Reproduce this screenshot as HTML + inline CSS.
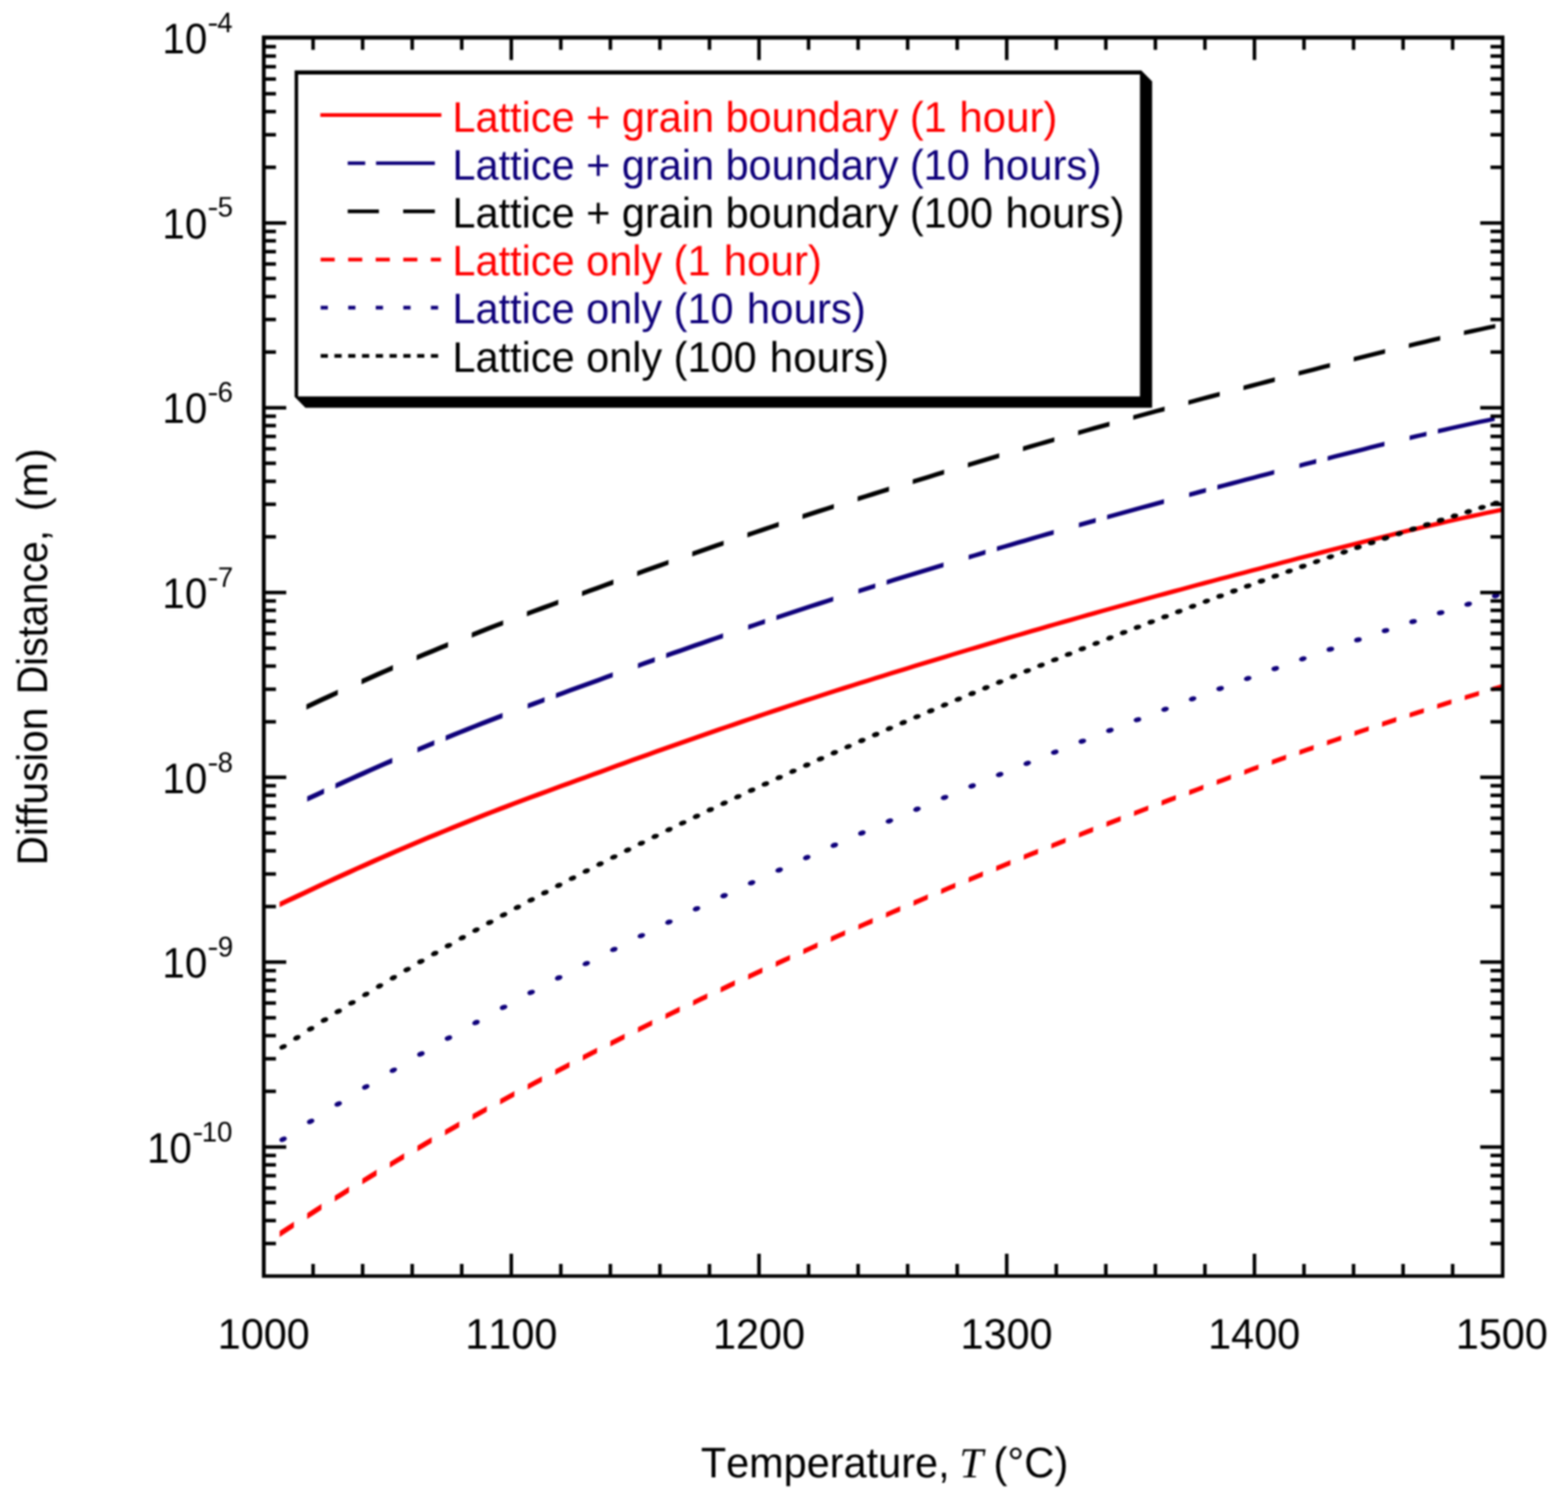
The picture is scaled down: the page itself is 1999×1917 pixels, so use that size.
<!DOCTYPE html>
<html lang="en">
<head>
<meta charset="utf-8">
<title>Diffusion distance vs temperature</title>
<style>
html,body{margin:0;padding:0;background:#fff;}
body{width:1999px;height:1917px;overflow:hidden;}
svg{display:block;filter:blur(0.8px);}
text{white-space:pre;font-kerning:none;text-rendering:geometricPrecision;}
</style>
</head>
<body>
<svg width="1999" height="1917" viewBox="0 0 1999 1917">
<rect width="1999" height="1917" fill="#fff"/>
<g><path d="M356.5 1149.56 L366.49 1144.83 L376.48 1140.11 L386.47 1135.39 L396.46 1130.69 L406.46 1126.03 L416.45 1121.39 L426.44 1116.79 L436.43 1112.23 L446.42 1107.7 L456.41 1103.21 L466.4 1098.75 L476.39 1094.32 L486.38 1089.92 L496.37 1085.55 L506.37 1081.23 L516.36 1076.95 L526.35 1072.71 L536.34 1068.51 L546.33 1064.35 L556.32 1060.23 L566.31 1056.13 L576.3 1052.06 L586.29 1048.01 L596.28 1043.99 L606.28 1040.02 L616.27 1036.09 L626.26 1032.2 L636.25 1028.35 L646.24 1024.55 L656.23 1020.78 L666.22 1017.03 L676.21 1013.3 L686.2 1009.59 L696.19 1005.91 L706.19 1002.24 L716.18 998.59 L726.17 994.95 L736.16 991.31 L746.15 987.67 L756.14 984.02 L766.13 980.38 L776.12 976.73 L786.11 973.09 L796.11 969.46 L806.1 965.85 L816.09 962.25 L826.08 958.67 L836.07 955.11 L846.06 951.56 L856.05 948.03 L866.04 944.51 L876.03 941 L886.02 937.51 L896.02 934.04 L906.01 930.57 L916 927.12 L925.99 923.68 L935.98 920.26 L945.97 916.84 L955.96 913.45 L965.95 910.06 L975.94 906.69 L985.93 903.33 L995.93 899.99 L1005.92 896.67 L1015.91 893.38 L1025.9 890.12 L1035.89 886.88 L1045.88 883.66 L1055.87 880.46 L1065.86 877.28 L1075.85 874.11 L1085.84 870.95 L1095.84 867.8 L1105.83 864.66 L1115.82 861.54 L1125.81 858.42 L1135.8 855.32 L1145.79 852.22 L1155.78 849.14 L1165.77 846.07 L1175.76 843.01 L1185.76 839.96 L1195.75 836.92 L1205.74 833.9 L1215.73 830.89 L1225.72 827.88 L1235.71 824.89 L1245.7 821.91 L1255.69 818.94 L1265.68 815.98 L1275.67 813.03 L1285.67 810.1 L1295.66 807.17 L1305.65 804.25 L1315.64 801.34 L1325.63 798.45 L1335.62 795.56 L1345.61 792.69 L1355.6 789.83 L1365.59 786.98 L1375.58 784.14 L1385.58 781.32 L1395.57 778.52 L1405.56 775.72 L1415.55 772.95 L1425.54 770.18 L1435.53 767.42 L1445.52 764.68 L1455.51 761.94 L1465.5 759.22 L1475.49 756.51 L1485.49 753.8 L1495.48 751.1 L1505.47 748.41 L1515.46 745.72 L1525.45 743.04 L1535.44 740.36 L1545.43 737.7 L1555.42 735.05 L1565.41 732.41 L1575.41 729.78 L1585.4 727.15 L1595.39 724.52 L1605.38 721.9 L1615.37 719.27 L1625.36 716.65 L1635.35 714.02 L1645.34 711.42 L1655.33 708.82 L1665.32 706.25 L1675.32 703.68 L1685.31 701.12 L1695.3 698.56 L1705.29 696.01 L1715.28 693.46 L1725.27 690.92 L1735.26 688.39 L1745.25 685.88 L1755.24 683.38 L1765.23 680.9 L1775.23 678.45 L1785.22 676.02 L1795.21 673.62 L1805.2 671.23 L1815.19 668.88 L1825.18 666.53 L1835.17 664.22 L1845.16 661.94 L1855.15 659.69 L1865.14 657.47 L1875.14 655.29 L1885.13 653.14 L1895.12 651.03 L1905.11 648.94 L1915.1 646.87 L1915.1 652.42 L1905.11 654.5 L1895.12 656.6 L1885.13 658.73 L1875.14 660.89 L1865.14 663.09 L1855.15 665.32 L1845.16 667.58 L1835.17 669.88 L1825.18 672.21 L1815.19 674.56 L1805.2 676.93 L1795.21 679.32 L1785.22 681.74 L1775.23 684.18 L1765.23 686.64 L1755.24 689.13 L1745.25 691.63 L1735.26 694.16 L1725.27 696.69 L1715.28 699.24 L1705.29 701.78 L1695.3 704.34 L1685.31 706.9 L1675.32 709.46 L1665.32 712.03 L1655.33 714.62 L1645.34 717.22 L1635.35 719.83 L1625.36 722.45 L1615.37 725.08 L1605.38 727.71 L1595.39 730.33 L1585.4 732.96 L1575.41 735.59 L1565.41 738.22 L1555.42 740.87 L1545.43 743.52 L1535.44 746.19 L1525.45 748.87 L1515.46 751.56 L1505.47 754.25 L1495.48 756.95 L1485.49 759.65 L1475.49 762.36 L1465.5 765.07 L1455.51 767.8 L1445.52 770.54 L1435.53 773.29 L1425.54 776.05 L1415.55 778.82 L1405.56 781.61 L1395.57 784.41 L1385.58 787.22 L1375.58 790.05 L1365.59 792.89 L1355.6 795.74 L1345.61 798.61 L1335.62 801.49 L1325.63 804.38 L1315.64 807.28 L1305.65 810.19 L1295.66 813.11 L1285.67 816.05 L1275.67 818.99 L1265.68 821.94 L1255.69 824.91 L1245.7 827.88 L1235.71 830.87 L1225.72 833.86 L1215.73 836.87 L1205.74 839.89 L1195.75 842.92 L1185.76 845.96 L1175.76 849.02 L1165.77 852.08 L1155.78 855.16 L1145.79 858.25 L1135.8 861.34 L1125.81 864.45 L1115.82 867.57 L1105.83 870.71 L1095.84 873.85 L1085.84 877 L1075.85 880.17 L1065.86 883.35 L1055.87 886.53 L1045.88 889.74 L1035.89 892.97 L1025.9 896.22 L1015.91 899.5 L1005.92 902.8 L995.93 906.13 L985.93 909.48 L975.94 912.84 L965.95 916.22 L955.96 919.61 L945.97 923.01 L935.98 926.43 L925.99 929.86 L916 933.31 L906.01 936.76 L896.02 940.23 L886.02 943.72 L876.03 947.22 L866.04 950.73 L856.05 954.25 L846.06 957.79 L836.07 961.35 L826.08 964.92 L816.09 968.5 L806.1 972.11 L796.11 975.73 L786.11 979.36 L776.12 983.01 L766.13 986.66 L756.14 990.3 L746.15 993.94 L736.16 997.59 L726.17 1001.23 L716.18 1004.87 L706.19 1008.52 L696.19 1012.2 L686.2 1015.9 L676.21 1019.62 L666.22 1023.35 L656.23 1027.11 L646.24 1030.9 L636.25 1034.72 L626.26 1038.59 L616.27 1042.49 L606.28 1046.45 L596.28 1050.44 L586.29 1054.47 L576.3 1058.53 L566.31 1062.62 L556.32 1066.72 L546.33 1070.86 L536.34 1075.04 L526.35 1079.25 L516.36 1083.51 L506.37 1087.81 L496.37 1092.16 L486.38 1096.54 L476.39 1100.96 L466.4 1105.4 L456.41 1109.87 L446.42 1114.38 L436.43 1118.93 L426.44 1123.51 L416.45 1128.12 L406.46 1132.77 L396.46 1137.45 L386.47 1142.16 L376.48 1146.88 L366.49 1151.61 L356.5 1156.34Z" fill="#ff0000"/>
<path d="M391.64 1015.1 L398.8 1011.74 L405.97 1008.39 L413.14 1005.06 L413.14 1011.8 L405.97 1015.14 L398.8 1018.49 L391.64 1021.87Z M427.64 998.39 L436.7 994.25 L445.76 990.14 L454.82 986.06 L463.89 982.01 L472.95 977.98 L482.01 973.98 L491.07 970.01 L500.14 966.06 L500.14 972.66 L491.07 976.62 L482.01 980.61 L472.95 984.62 L463.89 988.66 L454.82 992.73 L445.76 996.82 L436.7 1000.95 L427.64 1005.1Z M532.18 952.39 L539.35 949.39 L546.51 946.42 L553.68 943.46 L553.68 949.96 L546.51 952.93 L539.35 955.92 L532.18 958.93Z M568.18 937.51 L577.24 933.82 L586.3 930.15 L595.37 926.5 L604.43 922.89 L613.49 919.32 L622.55 915.78 L631.62 912.27 L640.68 908.8 L640.68 915.16 L631.62 918.65 L622.55 922.17 L613.49 925.73 L604.43 929.32 L595.37 932.95 L586.3 936.61 L577.24 940.29 L568.18 943.99Z M672.72 896.74 L679.89 894.08 L687.06 891.42 L694.22 888.77 L694.22 895.07 L687.06 897.72 L679.89 900.39 L672.72 903.06Z M708.72 883.45 L717.79 880.14 L726.85 876.84 L735.91 873.54 L744.97 870.24 L754.04 866.93 L763.1 863.63 L772.16 860.32 L781.22 857.01 L781.22 863.29 L772.16 866.6 L763.1 869.91 L754.04 873.21 L744.97 876.51 L735.91 879.82 L726.85 883.12 L717.79 886.42 L708.72 889.74Z M813.27 845.4 L820.43 842.83 L827.6 840.27 L834.77 837.71 L834.77 843.95 L827.6 846.51 L820.43 849.08 L813.27 851.66Z M849.27 832.57 L858.33 829.36 L867.39 826.18 L876.46 823 L885.52 819.83 L894.58 816.68 L903.64 813.53 L912.71 810.4 L921.77 807.27 L921.77 813.46 L912.71 816.59 L903.64 819.73 L894.58 822.88 L885.52 826.04 L876.46 829.21 L867.39 832.39 L858.33 835.59 L849.27 838.79Z M953.81 796.32 L960.98 793.89 L968.15 791.46 L975.31 789.04 L975.31 795.2 L968.15 797.62 L960.98 800.05 L953.81 802.48Z M989.81 784.17 L998.87 781.15 L1007.94 778.15 L1017 775.17 L1026.06 772.21 L1035.12 769.27 L1044.19 766.35 L1053.25 763.44 L1062.31 760.55 L1062.31 766.62 L1053.25 769.51 L1044.19 772.43 L1035.12 775.36 L1026.06 778.31 L1017 781.28 L1007.94 784.27 L998.87 787.28 L989.81 790.32Z M1094.36 750.41 L1101.52 748.15 L1108.69 745.91 L1115.86 743.67 L1115.86 749.7 L1108.69 751.95 L1101.52 754.2 L1094.36 756.46Z M1130.36 739.15 L1139.42 736.34 L1148.48 733.53 L1157.54 730.74 L1166.61 727.96 L1175.67 725.18 L1184.73 722.41 L1193.79 719.66 L1202.86 716.91 L1202.86 722.9 L1193.79 725.66 L1184.73 728.42 L1175.67 731.19 L1166.61 733.97 L1157.54 736.76 L1148.48 739.56 L1139.42 742.36 L1130.36 745.18Z M1234.9 707.28 L1242.07 705.14 L1249.23 703 L1256.4 700.87 L1256.4 706.84 L1249.23 708.97 L1242.07 711.11 L1234.9 713.25Z M1270.9 696.58 L1279.96 693.91 L1289.03 691.25 L1298.09 688.6 L1307.15 685.95 L1316.21 683.32 L1325.28 680.69 L1334.34 678.08 L1343.4 675.47 L1343.4 681.39 L1334.34 684 L1325.28 686.62 L1316.21 689.26 L1307.15 691.9 L1298.09 694.54 L1289.03 697.2 L1279.96 699.87 L1270.9 702.54Z M1375.44 666.32 L1382.61 664.3 L1389.78 662.28 L1396.94 660.27 L1396.94 666.16 L1389.78 668.18 L1382.61 670.2 L1375.44 672.23Z M1411.44 656.23 L1420.51 653.71 L1429.57 651.21 L1438.63 648.71 L1447.69 646.22 L1456.76 643.75 L1465.82 641.28 L1474.88 638.82 L1483.94 636.36 L1483.94 642.21 L1474.88 644.67 L1465.82 647.13 L1456.76 649.6 L1447.69 652.08 L1438.63 654.58 L1429.57 657.08 L1420.51 659.59 L1411.44 662.11Z M1515.99 627.72 L1523.15 625.79 L1530.32 623.87 L1537.49 621.95 L1537.49 627.78 L1530.32 629.7 L1523.15 631.63 L1515.99 633.55Z M1551.99 618.1 L1561.05 615.7 L1570.11 613.32 L1579.18 610.93 L1588.24 608.55 L1597.3 606.16 L1606.36 603.78 L1615.43 601.4 L1624.49 599.02 L1624.49 604.83 L1615.43 607.21 L1606.36 609.59 L1597.3 611.97 L1588.24 614.36 L1579.18 616.74 L1570.11 619.13 L1561.05 621.52 L1551.99 623.92Z M1656.53 590.66 L1663.7 588.81 L1670.87 586.96 L1678.03 585.12 L1678.03 590.91 L1670.87 592.75 L1663.7 594.59 L1656.53 596.45Z M1692.53 581.41 L1701.59 579.09 L1710.66 576.78 L1719.72 574.48 L1728.78 572.17 L1737.84 569.88 L1746.91 567.6 L1755.97 565.34 L1765.03 563.1 L1765.03 568.83 L1755.97 571.09 L1746.91 573.36 L1737.84 575.64 L1728.78 577.94 L1719.72 580.25 L1710.66 582.56 L1701.59 584.87 L1692.53 587.19Z M1797.08 555.31 L1804.24 553.6 L1811.41 551.91 L1818.58 550.22 L1818.58 555.9 L1811.41 557.59 L1804.24 559.3 L1797.08 561.01Z M1833.08 546.84 L1842.14 544.76 L1851.2 542.71 L1860.26 540.69 L1869.33 538.69 L1878.39 536.73 L1887.45 534.79 L1896.51 532.88 L1905.58 530.98 L1905.58 536.54 L1896.51 538.45 L1887.45 540.37 L1878.39 542.32 L1869.33 544.3 L1860.26 546.31 L1851.2 548.35 L1842.14 550.42 L1833.08 552.51Z" fill="#0e007a"/>
<path d="M390.64 897.71 L400.64 893.02 L410.64 888.37 L420.64 883.74 L430.64 879.16 L430.64 885.86 L420.64 890.46 L410.64 895.1 L400.64 899.78 L390.64 904.48Z M460.91 865.48 L470.91 861.03 L480.91 856.61 L490.91 852.22 L500.91 847.87 L500.91 854.46 L490.91 858.84 L480.91 863.24 L470.91 867.67 L460.91 872.14Z M531.18 834.95 L541.18 830.77 L551.18 826.63 L561.18 822.52 L571.18 818.43 L571.18 824.91 L561.18 829.01 L551.18 833.13 L541.18 837.29 L531.18 841.49Z M601.45 806.22 L611.45 802.26 L621.45 798.35 L631.45 794.48 L641.45 790.65 L641.45 797.01 L631.45 800.85 L621.45 804.74 L611.45 808.68 L601.45 812.65Z M671.72 779.26 L681.72 775.54 L691.72 771.84 L701.72 768.16 L711.72 764.5 L711.72 770.78 L701.72 774.45 L691.72 778.14 L681.72 781.85 L671.72 785.58Z M742 753.47 L752 749.82 L762 746.17 L772 742.52 L782 738.87 L782 745.15 L772 748.8 L762 752.45 L752 756.1 L742 759.74Z M812.27 727.91 L822.27 724.32 L832.27 720.74 L842.27 717.19 L852.27 713.65 L852.27 719.87 L842.27 723.42 L832.27 726.99 L822.27 730.57 L812.27 734.16Z M882.54 703.01 L892.54 699.53 L902.54 696.05 L912.54 692.59 L922.54 689.15 L922.54 695.33 L912.54 698.78 L902.54 702.25 L892.54 705.73 L882.54 709.22Z M952.81 678.8 L962.81 675.41 L972.81 672.03 L982.81 668.66 L992.81 665.31 L992.81 671.45 L982.81 674.81 L972.81 678.18 L962.81 681.57 L952.81 684.96Z M1023.08 655.32 L1033.08 652.07 L1043.08 648.84 L1053.08 645.64 L1063.08 642.45 L1063.08 648.51 L1053.08 651.71 L1043.08 654.92 L1033.08 658.16 L1023.08 661.42Z M1093.36 632.86 L1103.36 629.72 L1113.36 626.59 L1123.36 623.47 L1133.36 620.36 L1133.36 626.39 L1123.36 629.5 L1113.36 632.63 L1103.36 635.76 L1093.36 638.91Z M1163.63 611.01 L1173.63 607.95 L1183.63 604.89 L1193.63 601.85 L1203.63 598.82 L1203.63 604.81 L1193.63 607.85 L1183.63 610.9 L1173.63 613.95 L1163.63 617.03Z M1233.9 589.72 L1243.9 586.73 L1253.9 583.76 L1263.9 580.79 L1273.9 577.84 L1273.9 583.8 L1263.9 586.76 L1253.9 589.72 L1243.9 592.7 L1233.9 595.69Z M1304.17 568.96 L1314.17 566.05 L1324.17 563.15 L1334.17 560.26 L1344.17 557.39 L1344.17 563.31 L1334.17 566.19 L1324.17 569.09 L1314.17 571.99 L1304.17 574.91Z M1374.44 548.75 L1384.44 545.92 L1394.44 543.11 L1404.44 540.32 L1414.44 537.54 L1414.44 543.41 L1404.44 546.2 L1394.44 549.01 L1384.44 551.82 L1374.44 554.65Z M1444.72 529.18 L1454.72 526.44 L1464.72 523.72 L1474.72 521 L1484.72 518.29 L1484.72 524.14 L1474.72 526.85 L1464.72 529.57 L1454.72 532.3 L1444.72 535.04Z M1514.99 510.13 L1524.99 507.44 L1534.99 504.76 L1544.99 502.1 L1554.99 499.45 L1554.99 505.26 L1544.99 507.92 L1534.99 510.59 L1524.99 513.28 L1514.99 515.97Z M1585.26 491.47 L1595.26 488.84 L1605.26 486.21 L1615.26 483.58 L1625.26 480.96 L1625.26 486.76 L1615.26 489.39 L1605.26 492.02 L1595.26 494.65 L1585.26 497.28Z M1655.53 473.06 L1665.53 470.48 L1675.53 467.91 L1685.53 465.34 L1695.53 462.79 L1695.53 468.56 L1685.53 471.12 L1675.53 473.69 L1665.53 476.26 L1655.53 478.85Z M1725.8 455.07 L1735.8 452.54 L1745.8 450.02 L1755.8 447.52 L1765.8 445.05 L1765.8 450.78 L1755.8 453.27 L1745.8 455.78 L1735.8 458.3 L1725.8 460.84Z M1796.08 437.69 L1806.08 435.31 L1816.08 432.95 L1826.08 430.61 L1836.08 428.29 L1836.08 433.95 L1826.08 436.28 L1816.08 438.63 L1806.08 441 L1796.08 443.4Z M1866.35 421.49 L1876.35 419.31 L1886.35 417.17 L1896.35 415.05 L1906.35 412.97 L1906.35 418.52 L1896.35 420.62 L1886.35 422.75 L1876.35 424.91 L1866.35 427.1Z" fill="#000000"/>
<path d="M356.5 1569.06 L365.6 1563.08 L374.7 1557.14 L374.7 1564.74 L365.6 1570.7 L356.5 1576.7Z M391.64 1546.19 L400.74 1540.36 L409.84 1534.57 L409.84 1542.09 L400.74 1547.9 L391.64 1553.75Z M426.77 1523.89 L435.87 1518.2 L444.97 1512.55 L444.97 1520 L435.87 1525.67 L426.77 1531.37Z M461.91 1502.13 L471.01 1496.58 L480.11 1491.07 L480.11 1498.45 L471.01 1503.98 L461.91 1509.55Z M497.04 1480.9 L506.14 1475.48 L515.24 1470.09 L515.24 1477.41 L506.14 1482.81 L497.04 1488.25Z M532.18 1460.15 L541.28 1454.86 L550.38 1449.59 L550.38 1456.85 L541.28 1462.13 L532.18 1467.44Z M567.32 1439.88 L576.42 1434.7 L585.52 1429.55 L585.52 1436.75 L576.42 1441.91 L567.32 1447.11Z M602.45 1420.05 L611.55 1414.98 L620.65 1409.94 L620.65 1417.08 L611.55 1422.14 L602.45 1427.22Z M637.59 1400.64 L646.69 1395.68 L655.79 1390.74 L655.79 1397.83 L646.69 1402.78 L637.59 1407.75Z M672.72 1381.63 L681.82 1376.77 L690.92 1371.93 L690.92 1378.97 L681.82 1383.82 L672.72 1388.69Z M707.86 1363 L716.96 1358.23 L726.06 1353.49 L726.06 1360.48 L716.96 1365.24 L707.86 1370.01Z M743 1344.73 L752.1 1340.05 L761.2 1335.4 L761.2 1342.35 L752.1 1347.01 L743 1351.7Z M778.13 1326.8 L787.23 1322.21 L796.33 1317.64 L796.33 1324.55 L787.23 1329.13 L778.13 1333.73Z M813.27 1309.19 L822.37 1304.68 L831.47 1300.2 L831.47 1307.06 L822.37 1311.56 L813.27 1316.08Z M848.4 1291.89 L857.5 1287.46 L866.6 1283.05 L866.6 1289.88 L857.5 1294.3 L848.4 1298.74Z M883.54 1274.89 L892.64 1270.53 L901.74 1266.19 L901.74 1272.98 L892.64 1277.33 L883.54 1281.7Z M918.68 1258.16 L927.78 1253.87 L936.88 1249.6 L936.88 1256.36 L927.78 1260.64 L918.68 1264.93Z M953.81 1241.69 L962.91 1237.47 L972.01 1233.26 L972.01 1239.99 L962.91 1244.2 L953.81 1248.43Z M988.95 1225.48 L998.05 1221.32 L1007.15 1217.18 L1007.15 1223.87 L998.05 1228.02 L988.95 1232.19Z M1024.08 1209.5 L1033.18 1205.41 L1042.28 1201.32 L1042.28 1207.98 L1033.18 1212.08 L1024.08 1216.18Z M1059.22 1193.76 L1068.32 1189.72 L1077.42 1185.69 L1077.42 1192.32 L1068.32 1196.36 L1059.22 1200.41Z M1094.36 1178.23 L1103.46 1174.25 L1112.56 1170.28 L1112.56 1176.88 L1103.46 1180.86 L1094.36 1184.85Z M1129.49 1162.92 L1138.59 1158.99 L1147.69 1155.07 L1147.69 1161.65 L1138.59 1165.57 L1129.49 1169.51Z M1164.63 1147.81 L1173.73 1143.93 L1182.83 1140.06 L1182.83 1146.62 L1173.73 1150.49 L1164.63 1154.38Z M1199.76 1132.9 L1208.86 1129.07 L1217.96 1125.25 L1217.96 1131.78 L1208.86 1135.6 L1199.76 1139.44Z M1234.9 1118.18 L1244 1114.4 L1253.1 1110.63 L1253.1 1117.13 L1244 1120.91 L1234.9 1124.7Z M1270.04 1103.65 L1279.14 1099.92 L1288.24 1096.2 L1288.24 1102.67 L1279.14 1106.4 L1270.04 1110.14Z M1305.17 1089.3 L1314.27 1085.62 L1323.37 1081.94 L1323.37 1088.4 L1314.27 1092.08 L1305.17 1095.77Z M1340.31 1075.14 L1349.41 1071.5 L1358.51 1067.88 L1358.51 1074.31 L1349.41 1077.94 L1340.31 1081.58Z M1375.44 1061.16 L1384.54 1057.57 L1393.64 1053.99 L1393.64 1060.4 L1384.54 1063.98 L1375.44 1067.58Z M1410.58 1047.36 L1419.68 1043.82 L1428.78 1040.28 L1428.78 1046.67 L1419.68 1050.21 L1410.58 1053.76Z M1445.72 1033.74 L1454.82 1030.24 L1463.92 1026.76 L1463.92 1033.12 L1454.82 1036.61 L1445.72 1040.11Z M1480.85 1020.31 L1489.95 1016.86 L1499.05 1013.42 L1499.05 1019.76 L1489.95 1023.2 L1480.85 1026.66Z M1515.99 1007.06 L1525.09 1003.66 L1534.19 1000.27 L1534.19 1006.59 L1525.09 1009.98 L1515.99 1013.39Z M1551.12 994.01 L1560.22 990.66 L1569.32 987.32 L1569.32 993.6 L1560.22 996.95 L1551.12 1000.3Z M1586.26 981.15 L1595.36 977.85 L1604.46 974.56 L1604.46 980.82 L1595.36 984.11 L1586.26 987.42Z M1621.4 968.49 L1630.5 965.24 L1639.6 962.01 L1639.6 968.24 L1630.5 971.48 L1621.4 974.73Z M1656.53 956.04 L1665.63 952.85 L1674.73 949.67 L1674.73 955.88 L1665.63 959.06 L1656.53 962.25Z M1691.67 943.8 L1700.77 940.67 L1709.87 937.55 L1709.87 943.73 L1700.77 946.85 L1691.67 949.99Z M1726.8 931.8 L1735.9 928.72 L1745 925.67 L1745 931.81 L1735.9 934.87 L1726.8 937.95Z M1761.94 920.02 L1771.04 917.01 L1780.14 914.02 L1780.14 920.13 L1771.04 923.13 L1761.94 926.15Z M1797.08 908.5 L1806.18 905.55 L1815.28 902.63 L1815.28 908.71 L1806.18 911.64 L1797.08 914.59Z M1832.21 897.23 L1841.31 894.36 L1850.41 891.5 L1850.41 897.54 L1841.31 900.41 L1832.21 903.29Z M1867.35 886.24 L1876.45 883.43 L1885.55 880.65 L1885.55 886.66 L1876.45 889.45 L1867.35 892.26Z M1902.48 875.53 L1908.79 873.64 L1915.1 871.75 L1915.1 877.72 L1908.79 879.61 L1902.48 881.51Z" fill="#ff0000"/>
<path d="M356.4 1454.06A4.9 3.1 -23.35 1 0 365.4 1450.18A4.9 3.1 -23.35 1 0 356.4 1454.06Z M391.52 1431.19A4.9 3.1 -22.88 1 0 400.55 1427.38A4.9 3.1 -22.88 1 0 391.52 1431.19Z M426.64 1408.88A4.9 3.1 -22.43 1 0 435.7 1405.14A4.9 3.1 -22.43 1 0 426.64 1408.88Z M461.76 1387.13A4.9 3.1 -21.99 1 0 470.85 1383.46A4.9 3.1 -21.99 1 0 461.76 1387.13Z M496.89 1365.89A4.9 3.1 -21.57 1 0 506 1362.28A4.9 3.1 -21.57 1 0 496.89 1365.89Z M532.01 1345.14A4.9 3.1 -21.16 1 0 541.15 1341.6A4.9 3.1 -21.16 1 0 532.01 1345.14Z M567.13 1324.86A4.9 3.1 -20.77 1 0 576.3 1321.38A4.9 3.1 -20.77 1 0 567.13 1324.86Z M602.26 1305.02A4.9 3.1 -20.4 1 0 611.44 1301.61A4.9 3.1 -20.4 1 0 602.26 1305.02Z M637.38 1285.61A4.9 3.1 -20.04 1 0 646.59 1282.25A4.9 3.1 -20.04 1 0 637.38 1285.61Z M672.51 1266.6A4.9 3.1 -19.7 1 0 681.74 1263.29A4.9 3.1 -19.7 1 0 672.51 1266.6Z M707.64 1247.96A4.9 3.1 -19.37 1 0 716.88 1244.71A4.9 3.1 -19.37 1 0 707.64 1247.96Z M742.76 1229.69A4.9 3.1 -19.06 1 0 752.03 1226.49A4.9 3.1 -19.06 1 0 742.76 1229.69Z M777.89 1211.75A4.9 3.1 -18.76 1 0 787.17 1208.6A4.9 3.1 -18.76 1 0 777.89 1211.75Z M813.02 1194.15A4.9 3.1 -18.47 1 0 822.32 1191.04A4.9 3.1 -18.47 1 0 813.02 1194.15Z M848.15 1176.84A4.9 3.1 -18.2 1 0 857.46 1173.78A4.9 3.1 -18.2 1 0 848.15 1176.84Z M883.28 1159.83A4.9 3.1 -17.93 1 0 892.6 1156.81A4.9 3.1 -17.93 1 0 883.28 1159.83Z M918.41 1143.1A4.9 3.1 -17.68 1 0 927.74 1140.12A4.9 3.1 -17.68 1 0 918.41 1143.1Z M953.54 1126.63A4.9 3.1 -17.44 1 0 962.89 1123.69A4.9 3.1 -17.44 1 0 953.54 1126.63Z M988.67 1110.41A4.9 3.1 -17.21 1 0 998.03 1107.51A4.9 3.1 -17.21 1 0 988.67 1110.41Z M1023.8 1094.43A4.9 3.1 -16.99 1 0 1033.17 1091.57A4.9 3.1 -16.99 1 0 1023.8 1094.43Z M1058.93 1078.68A4.9 3.1 -16.78 1 0 1068.31 1075.85A4.9 3.1 -16.78 1 0 1058.93 1078.68Z M1094.06 1063.15A4.9 3.1 -16.57 1 0 1103.45 1060.36A4.9 3.1 -16.57 1 0 1094.06 1063.15Z M1129.19 1047.83A4.9 3.1 -16.37 1 0 1138.59 1045.07A4.9 3.1 -16.37 1 0 1129.19 1047.83Z M1164.32 1032.72A4.9 3.1 -16.18 1 0 1173.73 1029.99A4.9 3.1 -16.18 1 0 1164.32 1032.72Z M1199.45 1017.81A4.9 3.1 -15.99 1 0 1208.87 1015.11A4.9 3.1 -15.99 1 0 1199.45 1017.81Z M1234.59 1003.08A4.9 3.1 -15.81 1 0 1244.01 1000.41A4.9 3.1 -15.81 1 0 1234.59 1003.08Z M1269.72 988.55A4.9 3.1 -15.63 1 0 1279.15 985.91A4.9 3.1 -15.63 1 0 1269.72 988.55Z M1304.85 974.2A4.9 3.1 -15.45 1 0 1314.3 971.59A4.9 3.1 -15.45 1 0 1304.85 974.2Z M1339.98 960.03A4.9 3.1 -15.27 1 0 1349.44 957.45A4.9 3.1 -15.27 1 0 1339.98 960.03Z M1375.11 946.05A4.9 3.1 -15.09 1 0 1384.58 943.5A4.9 3.1 -15.09 1 0 1375.11 946.05Z M1410.24 932.24A4.9 3.1 -14.91 1 0 1419.72 929.72A4.9 3.1 -14.91 1 0 1410.24 932.24Z M1445.38 918.62A4.9 3.1 -14.73 1 0 1454.86 916.13A4.9 3.1 -14.73 1 0 1445.38 918.62Z M1480.51 905.18A4.9 3.1 -14.54 1 0 1490 902.72A4.9 3.1 -14.54 1 0 1480.51 905.18Z M1515.64 891.93A4.9 3.1 -14.35 1 0 1525.14 889.5A4.9 3.1 -14.35 1 0 1515.64 891.93Z M1550.77 878.87A4.9 3.1 -14.16 1 0 1560.28 876.47A4.9 3.1 -14.16 1 0 1550.77 878.87Z M1585.9 866.01A4.9 3.1 -13.96 1 0 1595.42 863.64A4.9 3.1 -13.96 1 0 1585.9 866.01Z M1621.04 853.34A4.9 3.1 -13.75 1 0 1630.56 851.01A4.9 3.1 -13.75 1 0 1621.04 853.34Z M1656.17 840.89A4.9 3.1 -13.54 1 0 1665.7 838.59A4.9 3.1 -13.54 1 0 1656.17 840.89Z M1691.3 828.65A4.9 3.1 -13.31 1 0 1700.84 826.39A4.9 3.1 -13.31 1 0 1691.3 828.65Z M1726.43 816.64A4.9 3.1 -13.07 1 0 1735.98 814.42A4.9 3.1 -13.07 1 0 1726.43 816.64Z M1761.56 804.86A4.9 3.1 -12.83 1 0 1771.12 802.68A4.9 3.1 -12.83 1 0 1761.56 804.86Z M1796.69 793.33A4.9 3.1 -12.57 1 0 1806.26 791.19A4.9 3.1 -12.57 1 0 1796.69 793.33Z M1831.82 782.05A4.9 3.1 -12.29 1 0 1841.4 779.97A4.9 3.1 -12.29 1 0 1831.82 782.05Z M1866.96 771.05A4.9 3.1 -12 1 0 1876.54 769.01A4.9 3.1 -12 1 0 1866.96 771.05Z M1902.09 760.33A4.9 3.1 -11.69 1 0 1911.68 758.34A4.9 3.1 -11.69 1 0 1902.09 760.33Z" fill="#0e007a"/>
<path d="M356.4 1336.2A4.9 3.1 -23.35 1 0 365.4 1332.32A4.9 3.1 -23.35 1 0 356.4 1336.2Z M373.96 1324.69A4.9 3.1 -23.12 1 0 382.97 1320.85A4.9 3.1 -23.12 1 0 373.96 1324.69Z M391.52 1313.33A4.9 3.1 -22.88 1 0 400.55 1309.52A4.9 3.1 -22.88 1 0 391.52 1313.33Z M409.08 1302.11A4.9 3.1 -22.65 1 0 418.13 1298.33A4.9 3.1 -22.65 1 0 409.08 1302.11Z M426.64 1291.03A4.9 3.1 -22.43 1 0 435.7 1287.29A4.9 3.1 -22.43 1 0 426.64 1291.03Z M444.2 1280.08A4.9 3.1 -22.21 1 0 453.28 1276.38A4.9 3.1 -22.21 1 0 444.2 1280.08Z M461.76 1269.27A4.9 3.1 -21.99 1 0 470.85 1265.6A4.9 3.1 -21.99 1 0 461.76 1269.27Z M479.33 1258.58A4.9 3.1 -21.78 1 0 488.43 1254.95A4.9 3.1 -21.78 1 0 479.33 1258.58Z M496.89 1248.03A4.9 3.1 -21.57 1 0 506 1244.43A4.9 3.1 -21.57 1 0 496.89 1248.03Z M514.45 1237.59A4.9 3.1 -21.36 1 0 523.58 1234.02A4.9 3.1 -21.36 1 0 514.45 1237.59Z M532.01 1227.28A4.9 3.1 -21.16 1 0 541.15 1223.74A4.9 3.1 -21.16 1 0 532.01 1227.28Z M549.57 1217.08A4.9 3.1 -20.97 1 0 558.72 1213.58A4.9 3.1 -20.97 1 0 549.57 1217.08Z M567.13 1207A4.9 3.1 -20.77 1 0 576.3 1203.53A4.9 3.1 -20.77 1 0 567.13 1207Z M584.7 1197.03A4.9 3.1 -20.59 1 0 593.87 1193.58A4.9 3.1 -20.59 1 0 584.7 1197.03Z M602.26 1187.17A4.9 3.1 -20.4 1 0 611.44 1183.75A4.9 3.1 -20.4 1 0 602.26 1187.17Z M619.82 1177.41A4.9 3.1 -20.22 1 0 629.02 1174.02A4.9 3.1 -20.22 1 0 619.82 1177.41Z M637.38 1167.75A4.9 3.1 -20.04 1 0 646.59 1164.39A4.9 3.1 -20.04 1 0 637.38 1167.75Z M654.95 1158.2A4.9 3.1 -19.87 1 0 664.16 1154.87A4.9 3.1 -19.87 1 0 654.95 1158.2Z M672.51 1148.74A4.9 3.1 -19.7 1 0 681.74 1145.44A4.9 3.1 -19.7 1 0 672.51 1148.74Z M690.07 1139.38A4.9 3.1 -19.53 1 0 699.31 1136.1A4.9 3.1 -19.53 1 0 690.07 1139.38Z M707.64 1130.1A4.9 3.1 -19.37 1 0 716.88 1126.85A4.9 3.1 -19.37 1 0 707.64 1130.1Z M725.2 1120.92A4.9 3.1 -19.21 1 0 734.46 1117.7A4.9 3.1 -19.21 1 0 725.2 1120.92Z M742.76 1111.83A4.9 3.1 -19.06 1 0 752.03 1108.63A4.9 3.1 -19.06 1 0 742.76 1111.83Z M760.33 1102.82A4.9 3.1 -18.91 1 0 769.6 1099.65A4.9 3.1 -18.91 1 0 760.33 1102.82Z M777.89 1093.9A4.9 3.1 -18.76 1 0 787.17 1090.75A4.9 3.1 -18.76 1 0 777.89 1093.9Z M795.46 1085.05A4.9 3.1 -18.61 1 0 804.74 1081.92A4.9 3.1 -18.61 1 0 795.46 1085.05Z M813.02 1076.29A4.9 3.1 -18.47 1 0 822.32 1073.18A4.9 3.1 -18.47 1 0 813.02 1076.29Z M830.58 1067.6A4.9 3.1 -18.33 1 0 839.89 1064.52A4.9 3.1 -18.33 1 0 830.58 1067.6Z M848.15 1058.98A4.9 3.1 -18.2 1 0 857.46 1055.92A4.9 3.1 -18.2 1 0 848.15 1058.98Z M865.71 1050.44A4.9 3.1 -18.06 1 0 875.03 1047.4A4.9 3.1 -18.06 1 0 865.71 1050.44Z M883.28 1041.97A4.9 3.1 -17.93 1 0 892.6 1038.96A4.9 3.1 -17.93 1 0 883.28 1041.97Z M900.84 1033.57A4.9 3.1 -17.81 1 0 910.17 1030.58A4.9 3.1 -17.81 1 0 900.84 1033.57Z M918.41 1025.24A4.9 3.1 -17.68 1 0 927.74 1022.26A4.9 3.1 -17.68 1 0 918.41 1025.24Z M935.97 1016.97A4.9 3.1 -17.56 1 0 945.32 1014.02A4.9 3.1 -17.56 1 0 935.97 1016.97Z M953.54 1008.77A4.9 3.1 -17.44 1 0 962.89 1005.83A4.9 3.1 -17.44 1 0 953.54 1008.77Z M971.1 1000.63A4.9 3.1 -17.33 1 0 980.46 997.71A4.9 3.1 -17.33 1 0 971.1 1000.63Z M988.67 992.55A4.9 3.1 -17.21 1 0 998.03 989.65A4.9 3.1 -17.21 1 0 988.67 992.55Z M1006.23 984.53A4.9 3.1 -17.1 1 0 1015.6 981.65A4.9 3.1 -17.1 1 0 1006.23 984.53Z M1023.8 976.57A4.9 3.1 -16.99 1 0 1033.17 973.71A4.9 3.1 -16.99 1 0 1023.8 976.57Z M1041.36 968.67A4.9 3.1 -16.88 1 0 1050.74 965.82A4.9 3.1 -16.88 1 0 1041.36 968.67Z M1058.93 960.82A4.9 3.1 -16.78 1 0 1068.31 957.99A4.9 3.1 -16.78 1 0 1058.93 960.82Z M1076.49 953.03A4.9 3.1 -16.67 1 0 1085.88 950.22A4.9 3.1 -16.67 1 0 1076.49 953.03Z M1094.06 945.29A4.9 3.1 -16.57 1 0 1103.45 942.5A4.9 3.1 -16.57 1 0 1094.06 945.29Z M1111.63 937.61A4.9 3.1 -16.47 1 0 1121.02 934.83A4.9 3.1 -16.47 1 0 1111.63 937.61Z M1129.19 929.98A4.9 3.1 -16.37 1 0 1138.59 927.21A4.9 3.1 -16.37 1 0 1129.19 929.98Z M1146.76 922.39A4.9 3.1 -16.28 1 0 1156.16 919.65A4.9 3.1 -16.28 1 0 1146.76 922.39Z M1164.32 914.86A4.9 3.1 -16.18 1 0 1173.73 912.13A4.9 3.1 -16.18 1 0 1164.32 914.86Z M1181.89 907.38A4.9 3.1 -16.09 1 0 1191.3 904.67A4.9 3.1 -16.09 1 0 1181.89 907.38Z M1199.45 899.95A4.9 3.1 -15.99 1 0 1208.87 897.25A4.9 3.1 -15.99 1 0 1199.45 899.95Z M1217.02 892.56A4.9 3.1 -15.9 1 0 1226.44 889.88A4.9 3.1 -15.9 1 0 1217.02 892.56Z M1234.59 885.22A4.9 3.1 -15.81 1 0 1244.01 882.56A4.9 3.1 -15.81 1 0 1234.59 885.22Z M1252.15 877.93A4.9 3.1 -15.72 1 0 1261.58 875.28A4.9 3.1 -15.72 1 0 1252.15 877.93Z M1269.72 870.69A4.9 3.1 -15.63 1 0 1279.15 868.05A4.9 3.1 -15.63 1 0 1269.72 870.69Z M1287.28 863.49A4.9 3.1 -15.54 1 0 1296.72 860.87A4.9 3.1 -15.54 1 0 1287.28 863.49Z M1304.85 856.34A4.9 3.1 -15.45 1 0 1314.3 853.73A4.9 3.1 -15.45 1 0 1304.85 856.34Z M1322.41 849.23A4.9 3.1 -15.36 1 0 1331.87 846.64A4.9 3.1 -15.36 1 0 1322.41 849.23Z M1339.98 842.17A4.9 3.1 -15.27 1 0 1349.44 839.59A4.9 3.1 -15.27 1 0 1339.98 842.17Z M1357.55 835.16A4.9 3.1 -15.18 1 0 1367.01 832.59A4.9 3.1 -15.18 1 0 1357.55 835.16Z M1375.11 828.19A4.9 3.1 -15.09 1 0 1384.58 825.64A4.9 3.1 -15.09 1 0 1375.11 828.19Z M1392.68 821.26A4.9 3.1 -15 1 0 1402.15 818.73A4.9 3.1 -15 1 0 1392.68 821.26Z M1410.24 814.39A4.9 3.1 -14.91 1 0 1419.72 811.86A4.9 3.1 -14.91 1 0 1410.24 814.39Z M1427.81 807.55A4.9 3.1 -14.82 1 0 1437.29 805.04A4.9 3.1 -14.82 1 0 1427.81 807.55Z M1445.38 800.76A4.9 3.1 -14.73 1 0 1454.86 798.27A4.9 3.1 -14.73 1 0 1445.38 800.76Z M1462.94 794.02A4.9 3.1 -14.64 1 0 1472.43 791.55A4.9 3.1 -14.64 1 0 1462.94 794.02Z M1480.51 787.33A4.9 3.1 -14.54 1 0 1490 784.86A4.9 3.1 -14.54 1 0 1480.51 787.33Z M1498.07 780.68A4.9 3.1 -14.45 1 0 1507.57 778.23A4.9 3.1 -14.45 1 0 1498.07 780.68Z M1515.64 774.07A4.9 3.1 -14.35 1 0 1525.14 771.64A4.9 3.1 -14.35 1 0 1515.64 774.07Z M1533.21 767.52A4.9 3.1 -14.26 1 0 1542.71 765.11A4.9 3.1 -14.26 1 0 1533.21 767.52Z M1550.77 761.01A4.9 3.1 -14.16 1 0 1560.28 758.62A4.9 3.1 -14.16 1 0 1550.77 761.01Z M1568.34 754.56A4.9 3.1 -14.06 1 0 1577.85 752.18A4.9 3.1 -14.06 1 0 1568.34 754.56Z M1585.9 748.15A4.9 3.1 -13.96 1 0 1595.42 745.78A4.9 3.1 -13.96 1 0 1585.9 748.15Z M1603.47 741.79A4.9 3.1 -13.86 1 0 1612.99 739.44A4.9 3.1 -13.86 1 0 1603.47 741.79Z M1621.04 735.49A4.9 3.1 -13.75 1 0 1630.56 733.16A4.9 3.1 -13.75 1 0 1621.04 735.49Z M1638.6 729.23A4.9 3.1 -13.65 1 0 1648.13 726.92A4.9 3.1 -13.65 1 0 1638.6 729.23Z M1656.17 723.03A4.9 3.1 -13.54 1 0 1665.7 720.74A4.9 3.1 -13.54 1 0 1656.17 723.03Z M1673.73 716.88A4.9 3.1 -13.42 1 0 1683.27 714.61A4.9 3.1 -13.42 1 0 1673.73 716.88Z M1691.3 710.79A4.9 3.1 -13.31 1 0 1700.84 708.54A4.9 3.1 -13.31 1 0 1691.3 710.79Z M1708.87 704.76A4.9 3.1 -13.19 1 0 1718.41 702.52A4.9 3.1 -13.19 1 0 1708.87 704.76Z M1726.43 698.78A4.9 3.1 -13.07 1 0 1735.98 696.56A4.9 3.1 -13.07 1 0 1726.43 698.78Z M1744 692.86A4.9 3.1 -12.95 1 0 1753.55 690.66A4.9 3.1 -12.95 1 0 1744 692.86Z M1761.56 687A4.9 3.1 -12.83 1 0 1771.12 684.82A4.9 3.1 -12.83 1 0 1761.56 687Z M1779.13 681.2A4.9 3.1 -12.7 1 0 1788.69 679.05A4.9 3.1 -12.7 1 0 1779.13 681.2Z M1796.69 675.47A4.9 3.1 -12.57 1 0 1806.26 673.33A4.9 3.1 -12.57 1 0 1796.69 675.47Z M1814.26 669.8A4.9 3.1 -12.43 1 0 1823.83 667.69A4.9 3.1 -12.43 1 0 1814.26 669.8Z M1831.82 664.19A4.9 3.1 -12.29 1 0 1841.4 662.11A4.9 3.1 -12.29 1 0 1831.82 664.19Z M1849.39 658.66A4.9 3.1 -12.15 1 0 1858.97 656.59A4.9 3.1 -12.15 1 0 1849.39 658.66Z M1866.96 653.19A4.9 3.1 -12 1 0 1876.54 651.15A4.9 3.1 -12 1 0 1866.96 653.19Z M1884.52 647.79A4.9 3.1 -11.85 1 0 1894.11 645.78A4.9 3.1 -11.85 1 0 1884.52 647.79Z M1902.09 642.47A4.9 3.1 -11.69 1 0 1911.68 640.49A4.9 3.1 -11.69 1 0 1902.09 642.47Z" fill="#000000"/></g>
<path d="M336.3 213.24H351.8 M1915.7 213.24H1900.2 M336.3 171.76H351.8 M1915.7 171.76H1900.2 M336.3 142.33H351.8 M1915.7 142.33H1900.2 M336.3 119.51H351.8 M1915.7 119.51H1900.2 M336.3 100.86H351.8 M1915.7 100.86H1900.2 M336.3 85.09H351.8 M1915.7 85.09H1900.2 M336.3 71.43H351.8 M1915.7 71.43H1900.2 M336.3 59.38H351.8 M1915.7 59.38H1900.2 M336.3 284.15H364.9 M1915.7 284.15H1887.1 M336.3 448.79H351.8 M1915.7 448.79H1900.2 M336.3 407.31H351.8 M1915.7 407.31H1900.2 M336.3 377.88H351.8 M1915.7 377.88H1900.2 M336.3 355.06H351.8 M1915.7 355.06H1900.2 M336.3 336.41H351.8 M1915.7 336.41H1900.2 M336.3 320.64H351.8 M1915.7 320.64H1900.2 M336.3 306.98H351.8 M1915.7 306.98H1900.2 M336.3 294.93H351.8 M1915.7 294.93H1900.2 M336.3 519.7H364.9 M1915.7 519.7H1887.1 M336.3 684.34H351.8 M1915.7 684.34H1900.2 M336.3 642.86H351.8 M1915.7 642.86H1900.2 M336.3 613.43H351.8 M1915.7 613.43H1900.2 M336.3 590.61H351.8 M1915.7 590.61H1900.2 M336.3 571.96H351.8 M1915.7 571.96H1900.2 M336.3 556.19H351.8 M1915.7 556.19H1900.2 M336.3 542.53H351.8 M1915.7 542.53H1900.2 M336.3 530.48H351.8 M1915.7 530.48H1900.2 M336.3 755.25H364.9 M1915.7 755.25H1887.1 M336.3 919.89H351.8 M1915.7 919.89H1900.2 M336.3 878.41H351.8 M1915.7 878.41H1900.2 M336.3 848.98H351.8 M1915.7 848.98H1900.2 M336.3 826.16H351.8 M1915.7 826.16H1900.2 M336.3 807.51H351.8 M1915.7 807.51H1900.2 M336.3 791.74H351.8 M1915.7 791.74H1900.2 M336.3 778.08H351.8 M1915.7 778.08H1900.2 M336.3 766.03H351.8 M1915.7 766.03H1900.2 M336.3 990.8H364.9 M1915.7 990.8H1887.1 M336.3 1155.44H351.8 M1915.7 1155.44H1900.2 M336.3 1113.96H351.8 M1915.7 1113.96H1900.2 M336.3 1084.53H351.8 M1915.7 1084.53H1900.2 M336.3 1061.71H351.8 M1915.7 1061.71H1900.2 M336.3 1043.06H351.8 M1915.7 1043.06H1900.2 M336.3 1027.29H351.8 M1915.7 1027.29H1900.2 M336.3 1013.63H351.8 M1915.7 1013.63H1900.2 M336.3 1001.58H351.8 M1915.7 1001.58H1900.2 M336.3 1226.35H364.9 M1915.7 1226.35H1887.1 M336.3 1390.99H351.8 M1915.7 1390.99H1900.2 M336.3 1349.51H351.8 M1915.7 1349.51H1900.2 M336.3 1320.08H351.8 M1915.7 1320.08H1900.2 M336.3 1297.26H351.8 M1915.7 1297.26H1900.2 M336.3 1278.61H351.8 M1915.7 1278.61H1900.2 M336.3 1262.84H351.8 M1915.7 1262.84H1900.2 M336.3 1249.18H351.8 M1915.7 1249.18H1900.2 M336.3 1237.13H351.8 M1915.7 1237.13H1900.2 M336.3 1461.9H364.9 M1915.7 1461.9H1887.1 M336.3 1585.06H351.8 M1915.7 1585.06H1900.2 M336.3 1555.63H351.8 M1915.7 1555.63H1900.2 M336.3 1532.81H351.8 M1915.7 1532.81H1900.2 M336.3 1514.16H351.8 M1915.7 1514.16H1900.2 M336.3 1498.39H351.8 M1915.7 1498.39H1900.2 M336.3 1484.73H351.8 M1915.7 1484.73H1900.2 M336.3 1472.68H351.8 M1915.7 1472.68H1900.2 M399.16 47.9V63.4 M399.16 1626.6V1611.1 M462.33 47.9V63.4 M462.33 1626.6V1611.1 M525.49 47.9V63.4 M525.49 1626.6V1611.1 M588.66 47.9V63.4 M588.66 1626.6V1611.1 M651.82 47.9V76.5 M651.82 1626.6V1598 M714.98 47.9V63.4 M714.98 1626.6V1611.1 M778.15 47.9V63.4 M778.15 1626.6V1611.1 M841.31 47.9V63.4 M841.31 1626.6V1611.1 M904.48 47.9V63.4 M904.48 1626.6V1611.1 M967.64 47.9V76.5 M967.64 1626.6V1598 M1030.8 47.9V63.4 M1030.8 1626.6V1611.1 M1093.97 47.9V63.4 M1093.97 1626.6V1611.1 M1157.13 47.9V63.4 M1157.13 1626.6V1611.1 M1220.3 47.9V63.4 M1220.3 1626.6V1611.1 M1283.46 47.9V76.5 M1283.46 1626.6V1598 M1346.62 47.9V63.4 M1346.62 1626.6V1611.1 M1409.79 47.9V63.4 M1409.79 1626.6V1611.1 M1472.95 47.9V63.4 M1472.95 1626.6V1611.1 M1536.12 47.9V63.4 M1536.12 1626.6V1611.1 M1599.28 47.9V76.5 M1599.28 1626.6V1598 M1662.44 47.9V63.4 M1662.44 1626.6V1611.1 M1725.61 47.9V63.4 M1725.61 1626.6V1611.1 M1788.77 47.9V63.4 M1788.77 1626.6V1611.1 M1851.94 47.9V63.4 M1851.94 1626.6V1611.1" fill="none" stroke="#000" stroke-width="4.5"/>
<path d="M333.85 45.3H1917.95 V1628.85 H333.85 Z M338.75 50.5H1913.45 V1624.35 H338.75 Z" fill="#000" fill-rule="evenodd"/>
<path d="M375.6 89.8H1455L1468.8 103.8V519.7H389.4L375.6 505.8Z" fill="#000"/>
<rect x="380.1" y="95" width="1073.2" height="410.3" fill="#fff"/>
<path d="M408.4 146.6H562.7" fill="none" stroke="#ff0000" stroke-width="4.7"/>
<path d="M443.3 208H465.6 M479.4 208H554.4" fill="none" stroke="#0e007a" stroke-width="4.7"/>
<path d="M443.3 269.4H483.1 M514 269.4H554.4" fill="none" stroke="#000000" stroke-width="4.7"/>
<path d="M408.7 330.8H426.7 M443.84 330.8H461.84 M478.97 330.8H496.97 M514.11 330.8H532.11 M549.24 330.8H562.2" fill="none" stroke="#ff0000" stroke-width="4.7"/>
<path d="M408.8 392.2H418 M443.94 392.2H453.14 M479.07 392.2H488.27 M514.21 392.2H523.41 M549.34 392.2H558.54" fill="none" stroke="#0e007a" stroke-width="4.7"/>
<path d="M408.8 453.6H418 M426.37 453.6H435.57 M443.94 453.6H453.14 M461.5 453.6H470.7 M479.07 453.6H488.27 M496.64 453.6H505.84 M514.21 453.6H523.41 M531.78 453.6H540.98 M549.34 453.6H558.54" fill="none" stroke="#000000" stroke-width="4.7"/>
<g font-family="'Liberation Sans', Arial, Helvetica, sans-serif" font-size="52.7">
<text transform="translate(576.86 167.5) scale(1.0030 1.0350)" fill="#ff0000">Lattice + grain boundary (1</text>
<text transform="translate(1223.07 167.5) scale(1.0170 1.0350)" fill="#ff0000">hour)</text>
<text transform="translate(576.86 228.7) scale(1.0030 1.0350)" fill="#0e007a">Lattice + grain boundary (10</text>
<text transform="translate(1252.38 228.7) scale(1.0170 1.0350)" fill="#0e007a">hours)</text>
<text transform="translate(576.86 289.7) scale(1.0030 1.0350)" fill="#000000">Lattice + grain boundary (100</text>
<text transform="translate(1281.69 289.7) scale(1.0170 1.0350)" fill="#000000">hours)</text>
<text transform="translate(576.86 350.5) scale(1.0030 1.0350)" fill="#ff0000">Lattice only (1</text>
<text transform="translate(922.74 350.5) scale(1.0170 1.0350)" fill="#ff0000">hour)</text>
<text transform="translate(576.86 412.1) scale(1.0030 1.0350)" fill="#0e007a">Lattice only (10</text>
<text transform="translate(952.05 412.1) scale(1.0170 1.0350)" fill="#0e007a">hours)</text>
<text transform="translate(576.86 473.7) scale(1.0030 1.0350)" fill="#000000">Lattice only (100</text>
<text transform="translate(981.36 473.7) scale(1.0170 1.0350)" fill="#000000">hours)</text>
<text transform="translate(277.58 1718.7) scale(1.0012 1.0350)">1000</text>
<text transform="translate(593.24 1718.7) scale(1.0012 1.0350)">1100</text>
<text transform="translate(908.9 1718.7) scale(1.0012 1.0350)">1200</text>
<text transform="translate(1224.56 1718.7) scale(1.0012 1.0350)">1300</text>
<text transform="translate(1540.22 1718.7) scale(1.0012 1.0350)">1400</text>
<text transform="translate(1855.88 1718.7) scale(1.0012 1.0350)">1500</text>
<text transform="translate(277.11 40.8) scale(1.0000 1.0300)" font-size="35.1">4</text>
<text transform="translate(264.44 40.8) scale(1.1903 1.0300)" font-size="35.1">-</text>
<text transform="translate(207.09 68) scale(0.9744 1.0350)">10</text>
<text transform="translate(277.55 276.48) scale(1.0000 1.0300)" font-size="35.1">5</text>
<text transform="translate(264.44 276.48) scale(1.1903 1.0300)" font-size="35.1">-</text>
<text transform="translate(207.09 303.68) scale(0.9744 1.0350)">10</text>
<text transform="translate(277.62 512.16) scale(1.0000 1.0300)" font-size="35.1">6</text>
<text transform="translate(264.44 512.16) scale(1.1903 1.0300)" font-size="35.1">-</text>
<text transform="translate(207.09 539.36) scale(0.9744 1.0350)">10</text>
<text transform="translate(277.84 747.84) scale(1.0000 1.0300)" font-size="35.1">7</text>
<text transform="translate(264.44 747.84) scale(1.1903 1.0300)" font-size="35.1">-</text>
<text transform="translate(207.09 775.04) scale(0.9744 1.0350)">10</text>
<text transform="translate(277.6 983.52) scale(1.0000 1.0300)" font-size="35.1">8</text>
<text transform="translate(264.44 983.52) scale(1.1903 1.0300)" font-size="35.1">-</text>
<text transform="translate(207.09 1010.72) scale(0.9744 1.0350)">10</text>
<text transform="translate(277.74 1219.2) scale(1.0000 1.0300)" font-size="35.1">9</text>
<text transform="translate(264.44 1219.2) scale(1.1903 1.0300)" font-size="35.1">-</text>
<text transform="translate(207.09 1246.4) scale(0.9744 1.0350)">10</text>
<text transform="translate(257.23 1454.88) scale(1.0000 1.0300)" font-size="35.1">10</text>
<text transform="translate(245.14 1454.88) scale(1.1903 1.0300)" font-size="35.1">-</text>
<text transform="translate(187.39 1482.08) scale(0.9744 1.0350)">10</text>
<text transform="translate(893.41 1882.6) scale(1.0029 1.0350)">Temperature,</text>
<text transform="translate(1222.93 1882.6) scale(1.0354 1.0350)" font-family="'Liberation Serif', 'Times New Roman', Times, serif" font-style="italic">T</text>
<text transform="translate(1266.48 1882.6) scale(1.0160 1.0350)">(°C)</text>
<text transform="translate(59.7 1103.04) rotate(-90) scale(0.9805 1.0350)">Diffusion</text>
<text transform="translate(59.7 884.67) rotate(-90) scale(0.9508 1.0350)">Distance,</text>
<text transform="translate(59.7 651.82) rotate(-90) scale(1.0171 1.0350)">(m)</text>
</g>
</svg>
</body>
</html>
